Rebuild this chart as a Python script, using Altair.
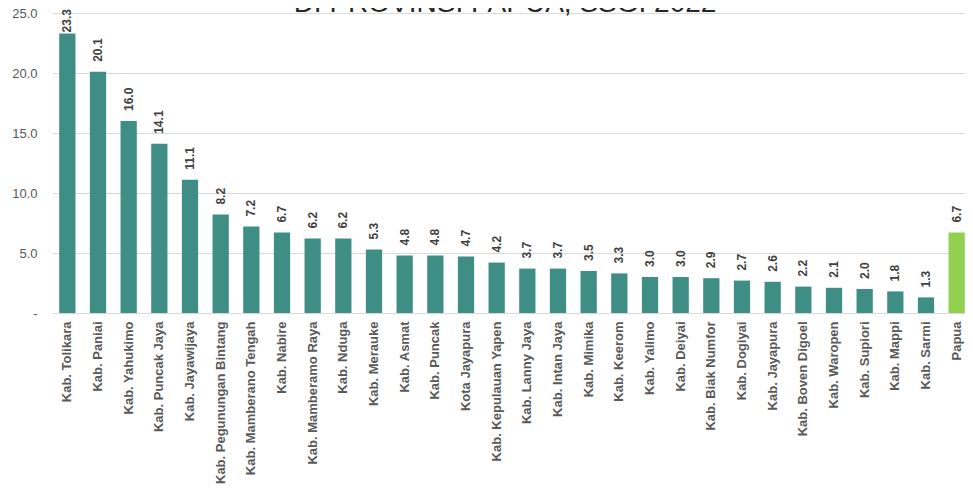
import altair as alt
import pandas as pd

regions = [
    "Kab. Tolikara", "Kab. Paniai", "Kab. Yahukimo", "Kab. Puncak Jaya", "Kab. Jayawijaya",
    "Kab. Pegunungan Bintang", "Kab. Mamberano Tengah", "Kab. Nabire", "Kab. Mamberamo Raya",
    "Kab. Nduga", "Kab. Merauke", "Kab. Asmat", "Kab. Puncak", "Kota Jayapura",
    "Kab. Kepulauan Yapen", "Kab. Lanny Jaya", "Kab. Intan Jaya", "Kab. Mimika", "Kab. Keerom",
    "Kab. Yalimo", "Kab. Deiyai", "Kab. Biak Numfor", "Kab. Dogiyai", "Kab. Jayapura",
    "Kab. Boven Digoel", "Kab. Waropen", "Kab. Supiori", "Kab. Mappi", "Kab. Sarmi", "Papua",
]
values = [
    23.3, 20.1, 16.0, 14.1, 11.1, 8.2, 7.2, 6.7, 6.2, 6.2, 5.3, 4.8, 4.8, 4.7, 4.2,
    3.7, 3.7, 3.5, 3.3, 3.0, 3.0, 2.9, 2.7, 2.6, 2.2, 2.1, 2.0, 1.8, 1.3, 6.7,
]
kinds = ["Kabupaten/Kota"] * 29 + ["Provinsi"]
title_text = "DI PROVINSI PAPUA, SSGI 2022"
y_ticks = [0, 5, 10, 15, 20, 25]

df = pd.DataFrame({"region": regions, "value": values, "kind": kinds})

x_enc = alt.X(
    "region:N", sort=regions, title=None,
    scale=alt.Scale(range=[0, 920], paddingInner=0.47, paddingOuter=0.235),
    axis=alt.Axis(
        labelAngle=270, labelAlign="right", labelBaseline="middle", labelPadding=8,
        labelFont="Liberation Sans", labelFontSize=13, labelFontWeight="bold",
        labelColor="#595959", ticks=False, domain=False, grid=False, labelLimit=300,
    ),
)
y_enc = alt.Y(
    "value:Q", title=None,
    scale=alt.Scale(domain=[0, 25], nice=False),
    axis=alt.Axis(
        values=y_ticks, labelExpr="datum.value == 0 ? '-' : format(datum.value, '.1f')",
        labelFont="Liberation Sans", labelFontSize=13, labelColor="#595959",
        labelPadding=15, ticks=False, domain=False, gridColor="#d9d9d9", gridWidth=1,
    ),
)

base = alt.Chart(df)

bars = base.mark_bar().encode(
    x=x_enc, y=y_enc,
    color=alt.Color("kind:N", scale=alt.Scale(domain=["Kabupaten/Kota", "Provinsi"],
                                              range=["#3e8e86", "#92d050"]), legend=None),
)

lbl_style = dict(angle=270, align="left", baseline="middle", font="Liberation Sans",
                 fontSize=12, fontWeight="bold", color="#404040")

labels = base.transform_filter("datum.value < 22").mark_text(dx=10, **lbl_style).encode(
    x=alt.X("region:N", sort=regions), y="value:Q", text=alt.Text("value:Q", format=".1f"))
labels_top = base.transform_filter("datum.value >= 22").mark_text(dx=1, **lbl_style).encode(
    x=alt.X("region:N", sort=regions), y="value:Q", text=alt.Text("value:Q", format=".1f"))

title = alt.Chart(pd.DataFrame({"t": [title_text]})).mark_text(
    font="Liberation Sans", fontSize=28, color="#262626", align="center", baseline="alphabetic"
).encode(x=alt.value(453), y=alt.value(-1), text="t:N")

chart = alt.layer(bars, labels, labels_top, title).properties(
    width=913, height=300,
    autosize=alt.AutoSizeParams(type="none"),
    padding={"left": 44, "top": 5, "right": 0, "bottom": 178},
).configure_view(stroke=None)

chart.save("out.html", embed_options={"renderer": "svg", "actions": False})
